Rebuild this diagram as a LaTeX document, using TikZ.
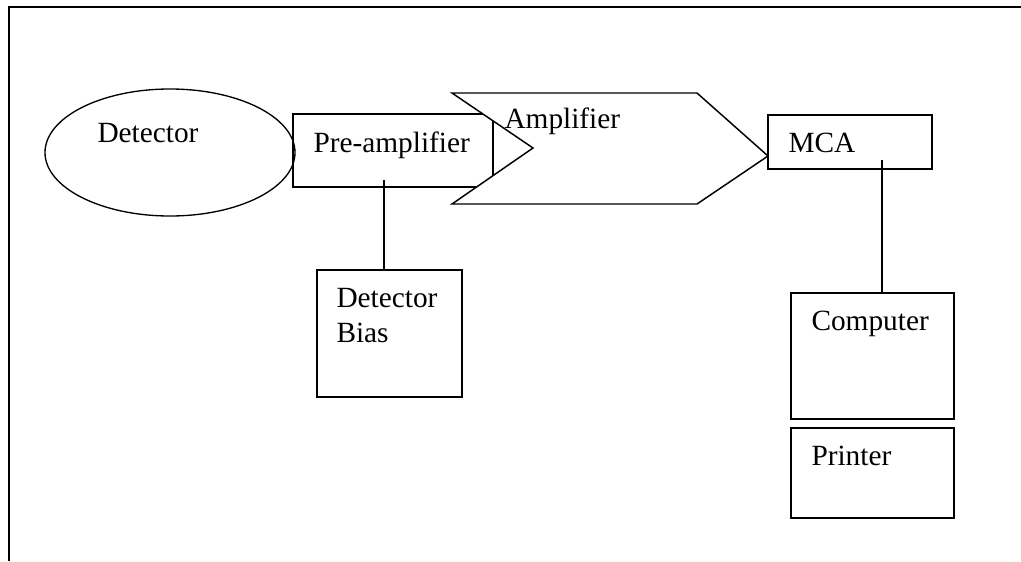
\documentclass[tikz,border=0pt]{standalone}
\usepackage{fontspec}
\setmainfont{Liberation Serif}
\usetikzlibrary{fit,shapes.geometric}
\tikzset{every picture/.style={line width=0.75pt}}

\begin{document}
\begin{tikzpicture}[x=0.75pt,y=0.75pt,yscale=-1,xscale=1,
	box/.style={draw, line width=1.1pt, inner sep=0pt},
	lbl/.style={anchor=base west, inner sep=0pt, font=\fontsize{22}{26}\selectfont},
	wire/.style={line width=0.9pt}]
	\useasboundingbox (0,0) rectangle (1021,561);

	%Frame
	\draw [line width=1.5pt] (1021,6.5) -- (9,6.5) -- (9,561) ;

	%Detector
	\node [ellipse, draw, line width=1pt, minimum width=187.5pt, minimum height=95.25pt] (det) at (170,152.5) {};
	\node [lbl] (detT) at (97,142) {Detector};

	%Pre-amplifier
	\node [box, fit={(293,114) (493,187)}] (pre) {};
	%Amplifier
	\draw [box, fill=white] (452,93) -- (697,93) -- (768,156) -- (697,204) -- (452,204) -- (533,148) -- cycle ;
	\node [lbl] (preT) at (313,152) {Pre-amplifier};
	\node [lbl] (ampT) at (504,128) {Amplifier};

	%Detector bias
	\node [box, fit={(317,270) (462,397)}] (bias) {};
	\node [lbl] (biasT) at (336,307) {Detector};
	\node [lbl] (biasT2) at (336,342) {Bias};

	%MCA
	\node [box, fit={(768,115) (932,169)}] (mca) {};
	\node [lbl] (mcaT) at (788,152) {MCA};

	%Computer and printer
	\node [box, fit={(791,293) (954,419)}] (comp) {};
	\node [lbl] (compT) at (811,330) {Computer};
	\node [box, fit={(791,428) (954,518)}] (prn) {};
	\node [lbl] (prnT) at (811,465) {Printer};

	%Connectors
	\coordinate (preTap) at (384,180);
	\coordinate (mcaTap) at (882,160);
	\draw [wire] (preTap) -- (preTap |- bias.north) ;
	\draw [wire] (mcaTap) -- (mcaTap |- comp.north) ;

\end{tikzpicture}
\end{document}
